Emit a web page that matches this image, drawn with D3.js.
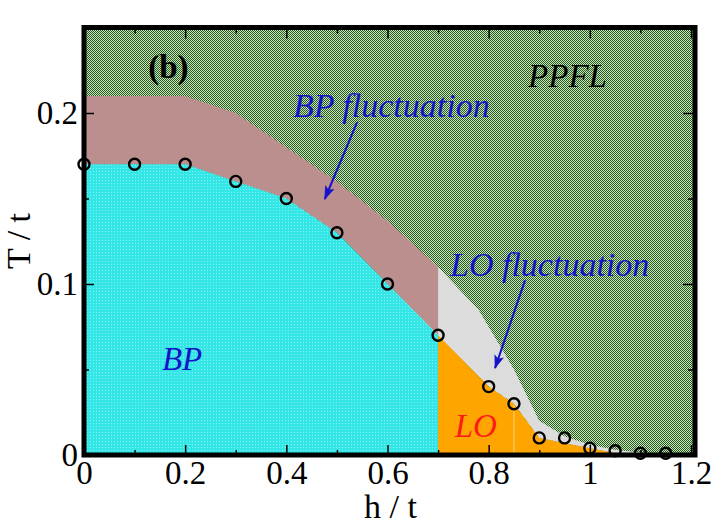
<!DOCTYPE html>
<html>
<head>
<meta charset="utf-8">
<script src="https://cdn.jsdelivr.net/npm/d3@7"></script>
<style>
  html, body { margin: 0; padding: 0; background: #fff; }
  svg { display: block; }
  text { font-family: "Liberation Serif", "Times New Roman", serif; }
</style>
</head>
<body>
<svg id="chart" width="728" height="530"></svg>
<script>
// critical temperature points (open circles)
const hPoints = [0, 0.1, 0.2, 0.3, 0.4, 0.5, 0.6, 0.7, 0.8, 0.85, 0.9, 0.95, 1.0, 1.05, 1.1, 1.15]
const tcPoints = [0.17, 0.17, 0.17, 0.16, 0.15, 0.13, 0.10, 0.07, 0.04, 0.03, 0.01, 0.01, 0.004, 0.0025, 0.001, 0.001]

// BP phase: bounded by the Tc points up to h = 0.7
const bpH = [0, 0.1, 0.2, 0.3, 0.4, 0.5, 0.6, 0.7]
const bpT = [0.17, 0.17, 0.17, 0.16, 0.15, 0.13, 0.10, 0.07]

// upper edge of BP fluctuation band
const bpFluctH = [0, 0.2, 0.3, 0.4, 0.5, 0.6, 0.7]
const bpFluctT = [0.21, 0.21, 0.2, 0.18, 0.16, 0.137, 0.11]

// LO phase upper edge
const loH = [0.7, 0.8, 0.85, 0.9, 1.0, 1.07]
const loT = [0.07, 0.04, 0.03, 0.01, 0.004, 0]

// upper edge of LO fluctuation band
const loFluctH = [0.7, 0.78, 0.85, 0.9, 0.95, 1.0, 1.05, 1.1, 1.15]
const loFluctT = [0.11, 0.085, 0.05, 0.02, 0.011, 0.006, 0.003, 0.0015, 0]

const xMajorTicks = [0, 0.2, 0.4, 0.6, 0.8, 1.0, 1.2]
const xMinorTicks = [0.1, 0.3, 0.5, 0.7, 0.9, 1.1]
const yMajorTicks = [0, 0.1, 0.2]
const yMinorTicks = [0.05, 0.15]

const svg = d3.select('#chart')

const plotLeft = 84
const plotRight = 691
const plotTop = 27.5
const plotBottom = 455

const x = d3.scaleLinear().domain([0, 1.2]).range([plotLeft, plotRight])
const y = d3.scaleLinear().domain([0, 0.25]).range([plotBottom, plotTop])

const fmt = d => String(+d.toFixed(2))

// fill patterns
const defs = svg.append('defs')

const green = defs.append('pattern')
  .attr('id', 'ppfl')
  .attr('patternUnits', 'userSpaceOnUse')
  .attr('width', 2).attr('height', 2)
green.append('rect').attr('width', 2).attr('height', 2).attr('fill', '#d2ddc2')
green.append('rect').attr('width', 1).attr('height', 1).attr('fill', '#1b601b')
green.append('rect').attr('x', 1).attr('y', 1).attr('width', 1).attr('height', 1).attr('fill', '#1b601b')

const cyan = defs.append('pattern')
  .attr('id', 'bp')
  .attr('patternUnits', 'userSpaceOnUse')
  .attr('width', 3).attr('height', 3)
cyan.append('rect').attr('width', 3).attr('height', 3).attr('fill', '#34e6e6')
cyan.append('rect').attr('width', 1).attr('height', 1).attr('fill', '#80f0f0')

defs.append('clipPath').attr('id', 'plot-clip')
  .append('rect')
  .attr('x', plotLeft).attr('y', plotTop)
  .attr('width', plotRight - plotLeft + 4).attr('height', plotBottom - plotTop)

const arrow = defs.append('marker')
  .attr('id', 'arrow')
  .attr('markerUnits', 'userSpaceOnUse')
  .attr('viewBox', '0 0 14 10')
  .attr('markerWidth', 14).attr('markerHeight', 10)
  .attr('refX', 13).attr('refY', 5)
  .attr('orient', 'auto')
arrow.append('path').attr('d', 'M0,0 L14,5 L0,10 L3,5 Z').attr('fill', '#1414c8')

const pts = (hs, ts) => hs.map((h, i) => [x(h), y(ts[i])])
const polygon = p => 'M' + p.map(d => d.join(',')).join('L') + 'Z'

const regions = svg.append('g').attr('clip-path', 'url(#plot-clip)')

// PPFL background
regions.append('rect')
  .attr('x', plotLeft).attr('y', plotTop)
  .attr('width', plotRight - plotLeft + 4).attr('height', plotBottom - plotTop)
  .attr('fill', 'url(#ppfl)')

// BP fluctuation band
const bpFluctPoly = pts(bpFluctH, bpFluctT).concat(pts(bpH, bpT).reverse())
regions.append('path').attr('d', polygon(bpFluctPoly)).attr('fill', '#bc8f8f')

// BP phase
const bpPoly = [[x(0), y(0)]].concat(pts(bpH, bpT), [[x(0.7), y(0)]])
regions.append('path').attr('d', polygon(bpPoly)).attr('fill', 'url(#bp)')

// LO fluctuation band
const loFluctPoly = pts(loFluctH, loFluctT).concat([[x(1.07), y(0)]], pts(loH, loT).reverse())
regions.append('path').attr('d', polygon(loFluctPoly)).attr('fill', '#dcdcdc')

// LO phase
const loPoly = [[x(0.7), y(0)]].concat(pts(loH, loT))
regions.append('path').attr('d', polygon(loPoly)).attr('fill', '#ffa500')

// faint seam inside LO region
regions.append('line')
  .attr('x1', x(0.85)).attr('x2', x(0.85))
  .attr('y1', y(0)).attr('y2', y(0.03))
  .attr('stroke', '#ffcf7a').attr('stroke-width', 1)

// Tc circles
svg.append('g')
  .selectAll('circle')
  .data(hPoints)
  .join('circle')
  .attr('cx', d => x(d))
  .attr('cy', (d, i) => y(tcPoints[i]))
  .attr('r', 5.5)
  .attr('fill', 'none')
  .attr('stroke', '#000')
  .attr('stroke-width', 2.4)

// axes, ticks pointing inward on all four sides
const tickFont = g => {
  g.select('.domain').remove()
  g.selectAll('line').attr('stroke', '#000').attr('stroke-width', 1.5)
  g.selectAll('text')
    .attr('font-family', '"Liberation Serif", serif')
    .attr('font-size', 33)
    .attr('fill', '#000')
}

svg.append('g')
  .attr('transform', `translate(0, ${plotBottom})`)
  .call(d3.axisBottom(x).tickValues(xMajorTicks).tickFormat(fmt).tickSizeInner(-10).tickSizeOuter(0).tickPadding(6))
  .call(tickFont)

svg.append('g')
  .attr('transform', `translate(0, ${plotBottom})`)
  .call(d3.axisBottom(x).tickValues(xMinorTicks).tickFormat('').tickSizeInner(-5).tickSizeOuter(0))
  .call(tickFont)

svg.append('g')
  .attr('transform', `translate(0, ${plotTop})`)
  .call(d3.axisTop(x).tickValues(xMajorTicks).tickFormat('').tickSizeInner(-11).tickSizeOuter(0))
  .call(tickFont)

svg.append('g')
  .attr('transform', `translate(0, ${plotTop})`)
  .call(d3.axisTop(x).tickValues(xMinorTicks).tickFormat('').tickSizeInner(-6).tickSizeOuter(0))
  .call(tickFont)

svg.append('g')
  .attr('transform', `translate(${plotLeft}, 0)`)
  .call(d3.axisLeft(y).tickValues(yMajorTicks).tickFormat(fmt).tickSizeInner(-10).tickSizeOuter(0).tickPadding(6))
  .call(tickFont)

svg.append('g')
  .attr('transform', `translate(${plotLeft}, 0)`)
  .call(d3.axisLeft(y).tickValues(yMinorTicks).tickFormat('').tickSizeInner(-5).tickSizeOuter(0))
  .call(tickFont)

svg.append('g')
  .attr('transform', `translate(${plotRight + 4}, 0)`)
  .call(d3.axisRight(y).tickValues(yMajorTicks.filter(d => d > 0)).tickFormat('').tickSizeInner(-12).tickSizeOuter(0))
  .call(tickFont)

svg.append('g')
  .attr('transform', `translate(${plotRight + 4}, 0)`)
  .call(d3.axisRight(y).tickValues(yMinorTicks).tickFormat('').tickSizeInner(-7).tickSizeOuter(0))
  .call(tickFont)

// frame
svg.append('rect')
  .attr('x', plotLeft).attr('y', plotTop)
  .attr('width', plotRight - plotLeft + 4).attr('height', plotBottom - plotTop)
  .attr('fill', 'none')
  .attr('stroke', '#000')
  .attr('stroke-width', 5)

// axis titles
svg.append('text')
  .attr('x', (plotLeft + plotRight) / 2 + 3).attr('y', 518)
  .attr('text-anchor', 'middle')
  .attr('font-size', 34)
  .text('h / t')

svg.append('text')
  .attr('transform', `translate(30, 241) rotate(-90)`)
  .attr('text-anchor', 'middle')
  .attr('font-size', 34)
  .text('T / t')

// annotations
const labels = [
  { text: '(b)', h: 0.127, t: 0.2205, color: '#000', style: 'normal', weight: 'bold', size: 33 },
  { text: 'PPFL', h: 0.878, t: 0.215, color: '#000', style: 'italic', weight: 'normal', size: 33 },
  { text: 'BP fluctuation', h: 0.413, t: 0.1975, color: '#1414c8', style: 'italic', weight: 'normal', size: 34 },
  { text: 'LO fluctuation', h: 0.7236, t: 0.1046, color: '#1414c8', style: 'italic', weight: 'normal', size: 34 },
  { text: 'BP', h: 0.154, t: 0.0497, color: '#1414c8', style: 'italic', weight: 'normal', size: 33 },
  { text: 'LO', h: 0.733, t: 0.0105, color: '#ff1a1a', style: 'italic', weight: 'normal', size: 33 }
]

svg.append('g')
  .selectAll('text')
  .data(labels)
  .join('text')
  .attr('x', d => x(d.h))
  .attr('y', d => y(d.t))
  .attr('fill', d => d.color)
  .attr('font-style', d => d.style)
  .attr('font-weight', d => d.weight)
  .attr('font-size', d => d.size)
  .text(d => d.text)

// arrows
const arrows = [
  { h1: 0.540, t1: 0.1946, h2: 0.476, t2: 0.1497 },
  { h1: 0.872, t1: 0.1023, h2: 0.8126, t2: 0.0508 }
]

svg.append('g')
  .selectAll('line')
  .data(arrows)
  .join('line')
  .attr('x1', d => x(d.h1)).attr('y1', d => y(d.t1))
  .attr('x2', d => x(d.h2)).attr('y2', d => y(d.t2))
  .attr('stroke', '#1414c8')
  .attr('stroke-width', 2)
  .attr('marker-end', 'url(#arrow)')
</script>
</body>
</html>
